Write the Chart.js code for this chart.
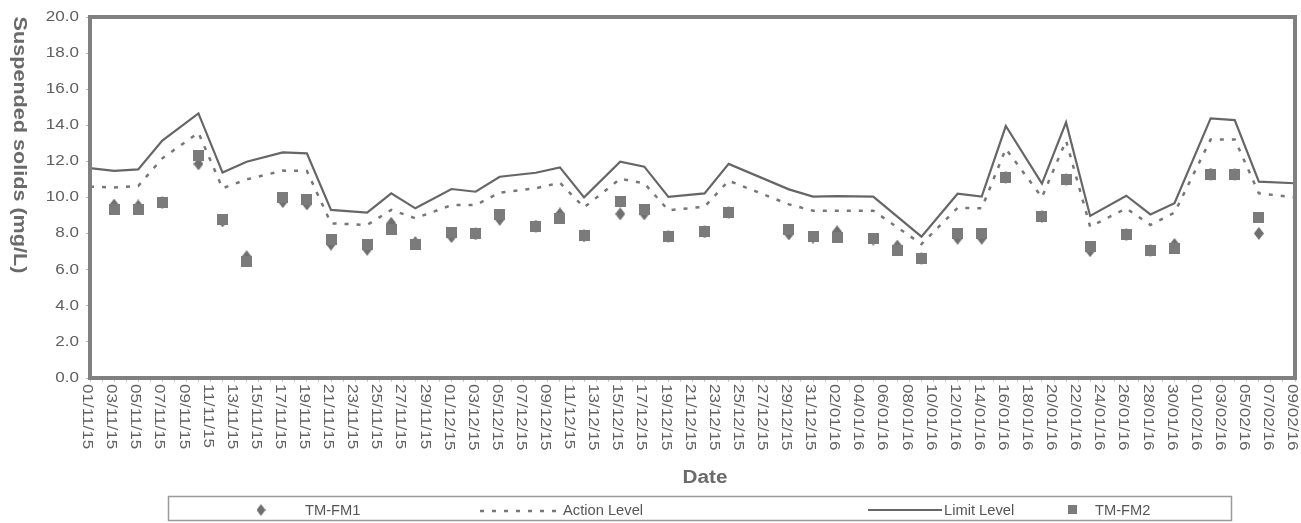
<!DOCTYPE html>
<html>
<head>
<meta charset="utf-8">
<script src="https://cdn.jsdelivr.net/npm/chart.js@4/dist/chart.umd.min.js"></script>
<style>
html,body{margin:0;padding:0;background:#fff;}
#wrap{position:relative;width:1301px;height:523px;}
</style>
</head>
<body>
<div id="wrap"><canvas id="c"></canvas></div>
<script>
// ---- categories (every day of the period) ----
const dayLabels = [
'01/11/15','02/11/15','03/11/15','04/11/15','05/11/15','06/11/15','07/11/15','08/11/15','09/11/15','10/11/15',
'11/11/15','12/11/15','13/11/15','14/11/15','15/11/15','16/11/15','17/11/15','18/11/15','19/11/15','20/11/15',
'21/11/15','22/11/15','23/11/15','24/11/15','25/11/15','26/11/15','27/11/15','28/11/15','29/11/15','30/11/15',
'01/12/15','02/12/15','03/12/15','04/12/15','05/12/15','06/12/15','07/12/15','08/12/15','09/12/15','10/12/15',
'11/12/15','12/12/15','13/12/15','14/12/15','15/12/15','16/12/15','17/12/15','18/12/15','19/12/15','20/12/15',
'21/12/15','22/12/15','23/12/15','24/12/15','25/12/15','26/12/15','27/12/15','28/12/15','29/12/15','30/12/15',
'31/12/15','01/01/16','02/01/16','03/01/16','04/01/16','05/01/16','06/01/16','07/01/16','08/01/16','09/01/16',
'10/01/16','11/01/16','12/01/16','13/01/16','14/01/16','15/01/16','16/01/16','17/01/16','18/01/16','19/01/16',
'20/01/16','21/01/16','22/01/16','23/01/16','24/01/16','25/01/16','26/01/16','27/01/16','28/01/16','29/01/16',
'30/01/16','31/01/16','01/02/16','02/02/16','03/02/16','04/02/16','05/02/16','06/02/16','07/02/16','08/02/16',
'09/02/16'
];

// ---- tick labels shown on the x axis (every second day) ----
const tickLabels = [
'01/11/15','03/11/15','05/11/15','07/11/15','09/11/15','11/11/15','13/11/15','15/11/15','17/11/15','19/11/15',
'21/11/15','23/11/15','25/11/15','27/11/15','29/11/15','01/12/15','03/12/15','05/12/15','07/12/15','09/12/15',
'11/12/15','13/12/15','15/12/15','17/12/15','19/12/15','21/12/15','23/12/15','25/12/15','27/12/15','29/12/15',
'31/12/15','02/01/16','04/01/16','06/01/16','08/01/16','10/01/16','12/01/16','14/01/16','16/01/16','18/01/16',
'20/01/16','22/01/16','24/01/16','26/01/16','28/01/16','30/01/16','01/02/16','03/02/16','05/02/16','07/02/16',
'09/02/16'
];
const yTicks = [0,2,4,6,8,10,12,14,16,18,20];

// ---- Action / Limit level lines ----
const levelDates = [
'01/11/15','03/11/15','05/11/15','07/11/15','10/11/15','12/11/15','14/11/15','17/11/15','19/11/15','21/11/15',
'24/11/15','26/11/15','28/11/15','01/12/15','03/12/15','05/12/15','08/12/15','10/12/15','12/12/15','15/12/15',
'17/12/15','19/12/15','22/12/15','24/12/15','29/12/15','31/12/15','02/01/16','05/01/16','09/01/16','12/01/16',
'14/01/16','16/01/16','19/01/16','21/01/16','23/01/16','26/01/16','28/01/16','30/01/16','02/02/16','04/02/16',
'06/02/16','09/02/16'
];
const actionLevel = [
10.60,10.56,10.64,12.17,13.59,10.51,11.00,11.49,11.47,8.57,
8.48,9.31,8.85,9.58,9.58,10.27,10.51,10.82,9.45,11.04,
10.79,9.29,9.49,10.93,9.62,9.27,9.27,9.27,7.42,9.43,
9.40,12.70,10.01,13.15,8.38,9.40,8.48,9.16,13.22,13.22,
10.23,10.01
];
const limitLevel = [
11.63,11.47,11.56,13.15,14.66,11.38,11.98,12.50,12.45,9.31,
9.16,10.23,9.40,10.47,10.32,11.15,11.37,11.67,10.01,11.98,
11.71,10.03,10.23,11.86,10.45,10.05,10.08,10.05,7.83,10.21,
10.05,13.96,10.77,14.16,8.98,10.10,9.06,9.68,14.38,14.29,
10.88,10.79
];

// ---- monitoring results ----
const sampleDates = [
'03/11/15','05/11/15','07/11/15','10/11/15','12/11/15','14/11/15','17/11/15','19/11/15','21/11/15','24/11/15',
'26/11/15','28/11/15','01/12/15','03/12/15','05/12/15','08/12/15','10/12/15','12/12/15','15/12/15','17/12/15',
'19/12/15','22/12/15','24/12/15','29/12/15','31/12/15','02/01/16','05/01/16','07/01/16','09/01/16','12/01/16',
'14/01/16','16/01/16','19/01/16','21/01/16','23/01/16','26/01/16','28/01/16','30/01/16','02/02/16','04/02/16',
'06/02/16'
];
const tmFm1 = [
9.58,9.53,9.71,11.86,8.70,6.72,9.77,9.64,7.42,7.13,
8.57,7.50,7.83,7.98,8.79,8.42,9.09,7.87,9.09,9.09,
7.85,8.09,9.16,7.98,7.80,8.10,7.70,7.31,6.63,7.74,
7.74,11.12,8.94,11.00,7.05,7.94,7.07,7.40,11.30,11.28,
8.01
];
const tmFm2 = [
9.36,9.31,9.71,12.35,8.79,6.45,10.01,9.90,7.68,7.37,
8.24,7.42,8.05,7.98,9.06,8.42,8.81,7.87,9.79,9.31,
7.85,8.09,9.16,8.24,7.83,7.79,7.74,7.05,6.63,7.98,
7.98,11.12,8.94,11.00,7.31,7.94,7.07,7.15,11.30,11.28,
8.90
];

const pair = (dates, vals) => dates.map((d, i) => ({x: d, y: vals[i]}));

// marker images
function makeDiamond(w, h, color) {
  const c = document.createElement('canvas'); c.width = w; c.height = h;
  const g = c.getContext('2d'); g.fillStyle = color;
  g.beginPath(); g.moveTo(w/2, 0); g.lineTo(w, h/2); g.lineTo(w/2, h); g.lineTo(0, h/2); g.closePath(); g.fill();
  return c;
}
function makeSquare(s, color) {
  const c = document.createElement('canvas'); c.width = s; c.height = s;
  const g = c.getContext('2d'); g.fillStyle = color; g.fillRect(0, 0, s, s);
  return c;
}
const diamondImg = makeDiamond(10, 13, '#6f6f6f');
const squareImg = makeSquare(11, '#7b7b7b');
const legendDiamond = makeDiamond(9, 12, '#6f6f6f');
const legendSquare = makeSquare(9, '#7b7b7b');

const FONT = '"Liberation Sans", Arial, Helvetica, sans-serif';
const TEXT = '#606060';

const decor = {
  id: 'decor',
  afterDraw(chart) {
    const ctx = chart.ctx, a = chart.chartArea;
    const xs = chart.scales.x, ys = chart.scales.y;
    ctx.save();
    // frame
    ctx.strokeStyle = '#808080'; ctx.lineWidth = 4;
    ctx.strokeRect(a.left, a.top, a.right - a.left, a.bottom - a.top);

    // y tick labels
    ctx.fillStyle = TEXT; ctx.font = '14px ' + FONT;
    ctx.textBaseline = 'middle';
    yTicks.forEach(v => {
      ctx.save();
      ctx.translate(79, ys.getPixelForValue(v));
      ctx.scale(1.22, 1);
      ctx.textAlign = 'right';
      ctx.fillText(v.toFixed(1), 0, 0);
      ctx.restore();
    });

    // x tick labels, rotated to read downward
    tickLabels.forEach(l => {
      const px = xs.getPixelForValue(dayLabels.indexOf(l));
      ctx.save();
      ctx.translate(px - 3, a.bottom + 6);
      ctx.rotate(Math.PI / 2);
      ctx.scale(1.22, 1);
      ctx.textAlign = 'left'; ctx.textBaseline = 'middle';
      ctx.fillText(l, 0, 0);
      ctx.restore();
    });

    // y title
    ctx.save();
    ctx.fillStyle = '#6a6a6a';
    ctx.font = 'bold 18px ' + FONT;
    ctx.translate(19, 145);
    ctx.rotate(Math.PI / 2);
    ctx.scale(1.2, 1);
    ctx.textAlign = 'center'; ctx.textBaseline = 'middle';
    ctx.fillText('Suspended solids (mg/L)', 0, 0);
    ctx.restore();

    // x title
    ctx.save();
    ctx.fillStyle = '#6a6a6a';
    ctx.font = 'bold 18px ' + FONT;
    ctx.translate(705, 478);
    ctx.scale(1.15, 1);
    ctx.textAlign = 'center'; ctx.textBaseline = 'middle';
    ctx.fillText('Date', 0, 0);
    ctx.restore();

    // legend
    ctx.strokeStyle = '#9a9a9a'; ctx.lineWidth = 1.5;
    ctx.strokeRect(168.5, 496.5, 1063, 24);
    const ly = 510;
    ctx.drawImage(legendDiamond, 261 - 4.5, ly - 6);
    ctx.drawImage(legendSquare, 1072 - 4.5, ly - 5);
    ctx.strokeStyle = '#777'; ctx.lineWidth = 2.5;
    ctx.setLineDash([4, 8]);
    ctx.beginPath(); ctx.moveTo(480, ly + 1); ctx.lineTo(560, ly + 1); ctx.stroke();
    ctx.setLineDash([]);
    ctx.strokeStyle = '#666'; ctx.lineWidth = 2;
    ctx.beginPath(); ctx.moveTo(868, ly); ctx.lineTo(942, ly); ctx.stroke();
    ctx.fillStyle = '#555'; ctx.font = '14px ' + FONT;
    ctx.textAlign = 'left'; ctx.textBaseline = 'middle';
    const items = [['TM-FM1', 305], ['Action Level', 563], ['Limit Level', 944], ['TM-FM2', 1095]];
    items.forEach(([t, x]) => {
      ctx.save(); ctx.translate(x, ly + 1); ctx.scale(1.05, 1); ctx.fillText(t, 0, 0); ctx.restore();
    });
    ctx.restore();
  }
};

new Chart(document.getElementById('c'), {
  type: 'line',
  data: {
    labels: dayLabels,
    datasets: [
      {label: 'TM-FM2', data: pair(sampleDates, tmFm2), showLine: false, pointStyle: squareImg,
       pointRadius: 5, pointHoverRadius: 5, order: 0},
      {label: 'TM-FM1', data: pair(sampleDates, tmFm1), showLine: false, pointStyle: diamondImg,
       pointRadius: 5, pointHoverRadius: 5, order: 1},
      {label: 'Action Level', data: pair(levelDates, actionLevel), borderColor: '#777', borderWidth: 2.5,
       borderDash: [4, 8], pointRadius: 0, tension: 0, fill: false, order: 2},
      {label: 'Limit Level', data: pair(levelDates, limitLevel), borderColor: '#666', borderWidth: 2.2,
       pointRadius: 0, tension: 0, fill: false, order: 3}
    ]
  },
  options: {
    responsive: true,
    maintainAspectRatio: false,
    animation: false,
    layout: {padding: {top: 17, right: 4, left: 0, bottom: 0}},
    plugins: {legend: {display: false}, tooltip: {enabled: false}},
    scales: {
      x: {
        type: 'category',
        offset: false,
        grid: {display: true, drawOnChartArea: false, drawTicks: true, tickLength: 4, color: '#c8c8c8'},
        border: {display: false},
        ticks: {display: false, autoSkip: false},
        afterFit: s => { s.height = 145; }
      },
      y: {
        min: 0, max: 20,
        grid: {display: true, drawOnChartArea: false, drawTicks: true, tickLength: 4, color: '#b0b0b0'},
        border: {display: false},
        ticks: {display: false, stepSize: 2},
        afterFit: s => { s.width = 90; }
      }
    }
  },
  plugins: [decor]
});
</script>
</body>
</html>
